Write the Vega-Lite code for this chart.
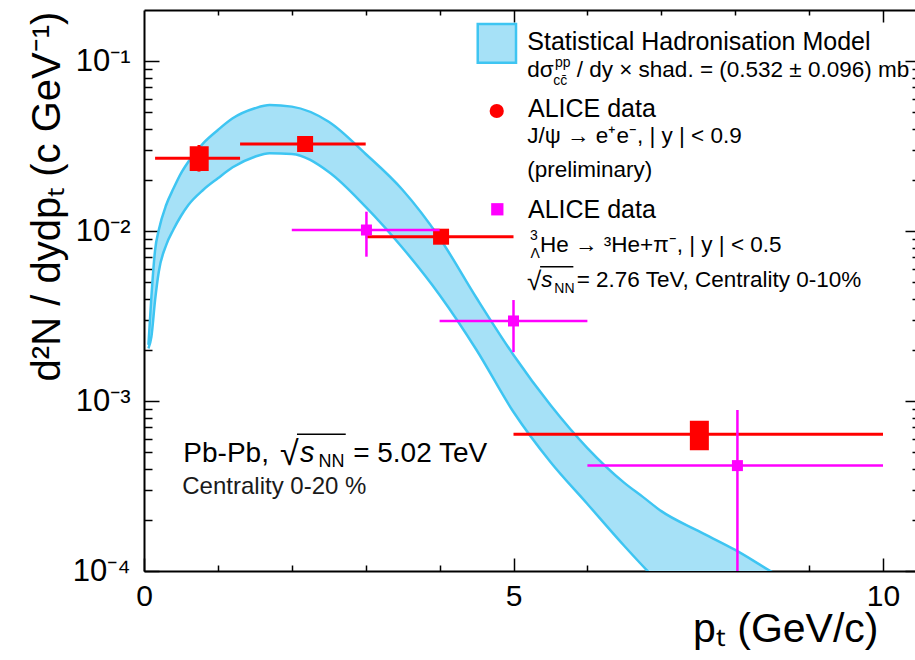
{
  "$schema": "https://vega.github.io/schema/vega-lite/v6.json",
  "width": 771,
  "height": 561,
  "autosize": {"type": "none"},
  "padding": {"left": 144, "top": 10, "right": 0, "bottom": 89},
  "background": "white",
  "config": {"view": {"stroke": null}, "font": "Liberation Sans", "axis": {"grid": false}},
  "resolve": {"axis": {"x": "independent", "y": "independent"}},
  "datasets": {
    "band": [
      {"pt": 0.06, "hi": 0.00214, "lo": 0.00204},
      {"pt": 0.1, "hi": 0.00411, "lo": 0.00239},
      {"pt": 0.15, "hi": 0.00774, "lo": 0.00393},
      {"pt": 0.2, "hi": 0.01015, "lo": 0.00577},
      {"pt": 0.3, "hi": 0.01424, "lo": 0.00828},
      {"pt": 0.4, "hi": 0.01786, "lo": 0.01025},
      {"pt": 0.5, "hi": 0.02188, "lo": 0.01227},
      {"pt": 0.6, "hi": 0.0256, "lo": 0.01424},
      {"pt": 0.8, "hi": 0.03286, "lo": 0.01746},
      {"pt": 1.0, "hi": 0.03935, "lo": 0.02045},
      {"pt": 1.2, "hi": 0.0461, "lo": 0.02374},
      {"pt": 1.5, "hi": 0.0528, "lo": 0.0274},
      {"pt": 1.7, "hi": 0.0552, "lo": 0.0287},
      {"pt": 2.0, "hi": 0.054, "lo": 0.02843},
      {"pt": 2.5, "hi": 0.044, "lo": 0.0223},
      {"pt": 3.0, "hi": 0.02843, "lo": 0.0139},
      {"pt": 3.5, "hi": 0.01745, "lo": 0.00796},
      {"pt": 4.0, "hi": 0.00911, "lo": 0.00421},
      {"pt": 4.5, "hi": 0.00404, "lo": 0.001997},
      {"pt": 5.0, "hi": 0.001867, "lo": 0.000862},
      {"pt": 5.5, "hi": 0.000948, "lo": 0.000438},
      {"pt": 6.0, "hi": 0.000529, "lo": 0.000248},
      {"pt": 6.5, "hi": 0.00033, "lo": 0.0001403},
      {"pt": 6.75, "hi": 0.000273, "lo": 0.000107},
      {"pt": 7.0, "hi": 0.000225, "lo": 0.0000827},
      {"pt": 7.5, "hi": 0.000172, "lo": 0.00005},
      {"pt": 8.0, "hi": 0.000133, "lo": 0.00003},
      {"pt": 8.5, "hi": 0.0000986, "lo": 0.00002},
      {"pt": 8.7, "hi": 0.000088, "lo": 0.000015}
    ],
    "jpsi": [
      {"pt": 0.744, "y": 0.0268, "ptlo": 0.15, "pthi": 1.3, "ylo": 0.0224, "yhi": 0.0321},
      {"pt": 2.18, "y": 0.03255, "ptlo": 1.3, "pthi": 3.0, "ylo": 0.0298, "yhi": 0.0355},
      {"pt": 4.02, "y": 0.00927, "ptlo": 3.0, "pthi": 5.0, "ylo": 0.0086, "yhi": 0.01},
      {"pt": 7.52, "y": 0.000637, "ptlo": 5.0, "pthi": 10.0, "ylo": 0.00054, "yhi": 0.00075}
    ],
    "jpsisys": [
      {"x1": 0.632, "x2": 0.862, "y1": 0.0229, "y2": 0.0311},
      {"x1": 7.4, "x2": 7.63, "y1": 0.00052, "y2": 0.000756}
    ],
    "hyp": [
      {"pt": 3.01, "y": 0.01015, "ptlo": 2.0, "pthi": 4.0, "ylo": 0.00707, "yhi": 0.01301},
      {"pt": 5.0, "y": 0.00296, "ptlo": 4.0, "pthi": 6.0, "ylo": 0.00194, "yhi": 0.00393},
      {"pt": 8.03, "y": 0.000417, "ptlo": 6.0, "pthi": 10.0, "ylo": 0.00001, "yhi": 0.000886}
    ],
    "texts": [
      {"x": 5.187, "y": 0.1163, "t": "Statistical Hadronisation Model", "g": "big"},
      {"x": 5.196, "y": 0.0471, "t": "ALICE data", "g": "big"},
      {"x": 5.196, "y": 0.01189, "t": "ALICE data", "g": "big"},
      {"x": 5.187, "y": 0.081, "t": "dσ", "g": "mid"},
      {"x": 5.855, "y": 0.081, "t": "/ dy × shad. = (0.532 ± 0.096) mb", "g": "mid"},
      {"x": 5.187, "y": 0.0329, "t": "J/ψ → e⁺e⁻,  | y | < 0.9", "g": "mid"},
      {"x": 5.187, "y": 0.0209, "t": "(preliminary)", "g": "mid"},
      {"x": 5.359, "y": 0.0075, "t": "He → ³He+π⁻,  | y | < 0.5", "g": "mid"},
      {"x": 5.855, "y": 0.00471, "t": "= 2.76 TeV, Centrality 0-10%", "g": "mid"},
      {"x": 5.562, "y": 0.0924, "t": "pp", "g": "small"},
      {"x": 5.539, "y": 0.0724, "t": "cc̄", "g": "small"},
      {"x": 5.223, "y": 0.00886, "t": "3", "g": "small"},
      {"x": 5.23, "y": 0.00692, "t": "Λ", "g": "small"},
      {"x": 5.552, "y": 0.00431, "t": "NN", "g": "small"},
      {"x": 5.375, "y": 0.00471, "t": "s", "g": "midital"},
      {"x": 5.183, "y": 0.0045, "t": "√", "g": "rootsmall"},
      {"x": 0.532, "y": 0.00044, "t": "Pb-Pb,", "g": "pb"},
      {"x": 2.83, "y": 0.00044, "t": "= 5.02 TeV", "g": "pb"},
      {"x": 2.111, "y": 0.00044, "t": "s", "g": "pbital"},
      {"x": 2.36, "y": 0.000409, "t": "NN", "g": "pbsub"},
      {"x": 1.84, "y": 0.00042, "t": "√", "g": "rootbig"},
      {"x": 0.518, "y": 0.0002825, "t": "Centrality 0-20 %", "g": "cent"}
    ],
    "overlines": [
      {"x1": 5.36, "x2": 5.81, "y": 0.00618},
      {"x1": 2.07, "x2": 2.73, "y": 0.000637}
    ]
  },
  "layer": [
    {
      "data": {"name": "band"},
      "mark": {"type": "area", "fill": "#a6e1f7", "clip": true, "interpolate": "monotone"},
      "encoding": {
        "x": {"field": "pt", "type": "quantitative", "scale": {"domain": [0, 10.433], "nice": false, "zero": false},
          "axis": {"orient": "bottom", "values": [0, 5, 10], "ticks": false, "tickSize": 0, "labelFontSize": 30, "labelFont": "Liberation Sans", "labelColor": "black", "labelPadding": 10, "labelFlush": false, "labelOverlap": false, "domain": true, "domainColor": "black", "domainWidth": 2,
            "title": "pₜ (GeV/c)", "titleFont": "Liberation Sans", "titleFontSize": 41, "titleFontWeight": "normal", "titleColor": "black", "titleAlign": "right", "titleAnchor": "end", "titleX": 734, "titleY": 70, "titleBaseline": "alphabetic"}},
        "y": {"field": "hi", "type": "quantitative", "scale": {"type": "log", "domain": [0.0001, 0.2], "nice": false},
          "axis": {"orient": "left", "values": [0.0001, 0.001, 0.01, 0.1], "labelExpr": "datum.value > 0.05 ? '10⁻¹' : datum.value > 0.005 ? '10⁻²' : datum.value > 0.0005 ? '10⁻³' : '10⁻⁴'", "ticks": false, "tickSize": 0, "labelFontSize": 31, "labelFont": "Liberation Sans", "labelColor": "black", "labelPadding": 14, "labelFlush": false, "labelOverlap": false, "labelBaseline": "middle", "domain": true, "domainColor": "black", "domainWidth": 2,
            "title": "d²N / dydpₜ (c GeV⁻¹)", "titleFont": "Liberation Sans", "titleFontSize": 40, "titleFontWeight": "normal", "titleColor": "black", "titleX": -85, "titleY": 186, "titleAngle": -90, "titleAlign": "center", "titleBaseline": "alphabetic"}},
        "y2": {"field": "lo"}
      }
    },
    {
      "data": {"name": "band"},
      "mark": {"type": "line", "stroke": "#3ec5f2", "strokeWidth": 2.5, "clip": true, "interpolate": "monotone"},
      "encoding": {
        "x": {"field": "pt", "type": "quantitative", "scale": {"domain": [0, 10.433], "nice": false, "zero": false},
          "axis": {"orient": "bottom", "values": [0, 5, 10], "labels": false, "domain": false, "tickSize": -13, "tickColor": "black", "tickWidth": 1.5, "title": null}},
        "y": {"field": "hi", "type": "quantitative", "scale": {"type": "log", "domain": [0.0001, 0.2], "nice": false},
          "axis": {"orient": "left", "values": [0.0001, 0.001, 0.01, 0.1], "labels": false, "domain": false, "tickSize": -15, "tickColor": "black", "tickWidth": 1.5, "title": null}}
      }
    },
    {
      "data": {"name": "band"},
      "mark": {"type": "line", "stroke": "#3ec5f2", "strokeWidth": 2.5, "clip": true, "interpolate": "monotone"},
      "encoding": {
        "x": {"field": "pt", "type": "quantitative", "scale": {"domain": [0, 10.433], "nice": false, "zero": false},
          "axis": {"orient": "bottom", "values": [1, 2, 3, 4, 6, 7, 8, 9], "labels": false, "domain": false, "tickSize": -6, "tickColor": "black", "tickWidth": 1.5, "title": null}},
        "y": {"field": "lo", "type": "quantitative", "scale": {"type": "log", "domain": [0.0001, 0.2], "nice": false},
          "axis": {"orient": "left", "values": [0.0002, 0.0003, 0.0004, 0.0005, 0.0006, 0.0007, 0.0008, 0.0009, 0.002, 0.003, 0.004, 0.005, 0.006, 0.007, 0.008, 0.009, 0.02, 0.03, 0.04, 0.05, 0.06, 0.07, 0.08, 0.09], "labels": false, "domain": false, "tickSize": -8, "tickColor": "black", "tickWidth": 1.5, "title": null}}
      }
    },
    {
      "data": {"name": "jpsi"},
      "mark": {"type": "rule", "stroke": "#ff0000", "strokeWidth": 3},
      "encoding": {
        "x": {"field": "ptlo", "type": "quantitative", "scale": {"domain": [0, 10.433], "nice": false, "zero": false},
          "axis": {"orient": "top", "values": [5, 10], "labels": false, "domain": true, "domainColor": "black", "domainWidth": 2, "tickSize": -12, "tickColor": "black", "tickWidth": 1.5, "title": null}},
        "x2": {"field": "pthi"},
        "y": {"field": "y", "type": "quantitative", "scale": {"type": "log", "domain": [0.0001, 0.2], "nice": false},
          "axis": {"orient": "right", "values": [0.0001, 0.001, 0.01, 0.1], "labels": false, "domain": false, "tickSize": -10, "tickColor": "black", "tickWidth": 1.5, "title": null}}
      }
    },
    {
      "data": {"name": "jpsi"},
      "mark": {"type": "rule", "stroke": "#ff0000", "strokeWidth": 3},
      "encoding": {
        "x": {"field": "pt", "type": "quantitative", "scale": {"domain": [0, 10.433], "nice": false, "zero": false},
          "axis": {"orient": "top", "values": [1, 2, 3, 4, 6, 7, 8, 9], "labels": false, "domain": false, "tickSize": -5, "tickColor": "black", "tickWidth": 1.5, "title": null}},
        "y": {"field": "ylo", "type": "quantitative", "scale": {"type": "log", "domain": [0.0001, 0.2], "nice": false},
          "axis": {"orient": "right", "values": [0.0002, 0.0003, 0.0004, 0.0005, 0.0006, 0.0007, 0.0008, 0.0009, 0.002, 0.003, 0.004, 0.005, 0.006, 0.007, 0.008, 0.009, 0.02, 0.03, 0.04, 0.05, 0.06, 0.07, 0.08, 0.09], "labels": false, "domain": false, "tickSize": -3, "tickColor": "black", "tickWidth": 1.5, "title": null}},
        "y2": {"field": "yhi"}
      }
    },
    {
      "data": {"name": "jpsisys"},
      "mark": {"type": "rect", "fill": "#ff0000", "stroke": "#ff0000", "strokeWidth": 2},
      "encoding": {
        "x": {"field": "x1", "type": "quantitative", "scale": {"domain": [0, 10.433], "nice": false, "zero": false}, "axis": null},
        "x2": {"field": "x2"},
        "y": {"field": "y1", "type": "quantitative", "scale": {"type": "log", "domain": [0.0001, 0.2], "nice": false}, "axis": null},
        "y2": {"field": "y2"}
      }
    },
    {
      "data": {"name": "jpsi"},
      "mark": {"type": "point", "shape": "square", "filled": true, "fill": "#ff0000", "size": 256, "opacity": 1},
      "encoding": {
        "x": {"field": "pt", "type": "quantitative", "scale": {"domain": [0, 10.433], "nice": false, "zero": false}, "axis": null},
        "y": {"field": "y", "type": "quantitative", "scale": {"type": "log", "domain": [0.0001, 0.2], "nice": false}, "axis": null}
      }
    },
    {
      "data": {"name": "hyp"},
      "mark": {"type": "rule", "stroke": "#ff00ff", "strokeWidth": 2.5, "clip": true},
      "encoding": {
        "x": {"field": "ptlo", "type": "quantitative", "scale": {"domain": [0, 10.433], "nice": false, "zero": false}, "axis": null},
        "x2": {"field": "pthi"},
        "y": {"field": "y", "type": "quantitative", "scale": {"type": "log", "domain": [0.0001, 0.2], "nice": false}, "axis": null}
      }
    },
    {
      "data": {"name": "hyp"},
      "mark": {"type": "rule", "stroke": "#ff00ff", "strokeWidth": 2.5, "clip": true},
      "encoding": {
        "x": {"field": "pt", "type": "quantitative", "scale": {"domain": [0, 10.433], "nice": false, "zero": false}, "axis": null},
        "y": {"field": "ylo", "type": "quantitative", "scale": {"type": "log", "domain": [0.0001, 0.2], "nice": false}, "axis": null},
        "y2": {"field": "yhi"}
      }
    },
    {
      "data": {"name": "hyp"},
      "mark": {"type": "point", "shape": "square", "filled": true, "fill": "#ff00ff", "size": 121, "opacity": 1},
      "encoding": {
        "x": {"field": "pt", "type": "quantitative", "scale": {"domain": [0, 10.433], "nice": false, "zero": false}, "axis": null},
        "y": {"field": "y", "type": "quantitative", "scale": {"type": "log", "domain": [0.0001, 0.2], "nice": false}, "axis": null}
      }
    },
    {
      "data": {"values": [{"x1": 4.516, "x2": 5.034, "y1": 0.0979, "y2": 0.1654}]},
      "mark": {"type": "rect", "fill": "#a6e1f7", "stroke": "#3ec5f2", "strokeWidth": 2.5},
      "encoding": {
        "x": {"field": "x1", "type": "quantitative", "scale": {"domain": [0, 10.433], "nice": false, "zero": false}, "axis": null},
        "x2": {"field": "x2"},
        "y": {"field": "y1", "type": "quantitative", "scale": {"type": "log", "domain": [0.0001, 0.2], "nice": false}, "axis": null},
        "y2": {"field": "y2"}
      }
    },
    {
      "data": {"values": [{"x": 4.773, "y": 0.0509}]},
      "mark": {"type": "point", "shape": "circle", "filled": true, "fill": "#ff0000", "size": 201, "opacity": 1},
      "encoding": {
        "x": {"field": "x", "type": "quantitative", "scale": {"domain": [0, 10.433], "nice": false, "zero": false}, "axis": null},
        "y": {"field": "y", "type": "quantitative", "scale": {"type": "log", "domain": [0.0001, 0.2], "nice": false}, "axis": null}
      }
    },
    {
      "data": {"values": [{"x": 4.781, "y": 0.01344}]},
      "mark": {"type": "point", "shape": "square", "filled": true, "fill": "#ff00ff", "size": 151, "opacity": 1},
      "encoding": {
        "x": {"field": "x", "type": "quantitative", "scale": {"domain": [0, 10.433], "nice": false, "zero": false}, "axis": null},
        "y": {"field": "y", "type": "quantitative", "scale": {"type": "log", "domain": [0.0001, 0.2], "nice": false}, "axis": null}
      }
    },
    {
      "data": {"name": "overlines"},
      "mark": {"type": "rule", "stroke": "black", "strokeWidth": 1.5},
      "encoding": {
        "x": {"field": "x1", "type": "quantitative", "scale": {"domain": [0, 10.433], "nice": false, "zero": false}, "axis": null},
        "x2": {"field": "x2"},
        "y": {"field": "y", "type": "quantitative", "scale": {"type": "log", "domain": [0.0001, 0.2], "nice": false}, "axis": null}
      }
    },
    {
      "data": {"name": "texts"},
      "transform": [{"filter": "datum.g == 'big'"}],
      "mark": {"type": "text", "align": "left", "baseline": "alphabetic", "font": "Liberation Sans", "fontSize": 25, "color": "black"},
      "encoding": {
        "x": {"field": "x", "type": "quantitative", "scale": {"domain": [0, 10.433], "nice": false, "zero": false}, "axis": null},
        "y": {"field": "y", "type": "quantitative", "scale": {"type": "log", "domain": [0.0001, 0.2], "nice": false}, "axis": null},
        "text": {"field": "t"}
      }
    },
    {
      "data": {"name": "texts"},
      "transform": [{"filter": "datum.g == 'mid'"}],
      "mark": {"type": "text", "align": "left", "baseline": "alphabetic", "font": "Liberation Sans", "fontSize": 22.5, "color": "black"},
      "encoding": {
        "x": {"field": "x", "type": "quantitative", "scale": {"domain": [0, 10.433], "nice": false, "zero": false}, "axis": null},
        "y": {"field": "y", "type": "quantitative", "scale": {"type": "log", "domain": [0.0001, 0.2], "nice": false}, "axis": null},
        "text": {"field": "t"}
      }
    },
    {
      "data": {"name": "texts"},
      "transform": [{"filter": "datum.g == 'midital'"}],
      "mark": {"type": "text", "align": "left", "baseline": "alphabetic", "font": "Liberation Sans", "fontSize": 22.5, "fontStyle": "italic", "color": "black"},
      "encoding": {
        "x": {"field": "x", "type": "quantitative", "scale": {"domain": [0, 10.433], "nice": false, "zero": false}, "axis": null},
        "y": {"field": "y", "type": "quantitative", "scale": {"type": "log", "domain": [0.0001, 0.2], "nice": false}, "axis": null},
        "text": {"field": "t"}
      }
    },
    {
      "data": {"name": "texts"},
      "transform": [{"filter": "datum.g == 'small'"}],
      "mark": {"type": "text", "align": "left", "baseline": "alphabetic", "font": "Liberation Sans", "fontSize": 14, "color": "black"},
      "encoding": {
        "x": {"field": "x", "type": "quantitative", "scale": {"domain": [0, 10.433], "nice": false, "zero": false}, "axis": null},
        "y": {"field": "y", "type": "quantitative", "scale": {"type": "log", "domain": [0.0001, 0.2], "nice": false}, "axis": null},
        "text": {"field": "t"}
      }
    },
    {
      "data": {"name": "texts"},
      "transform": [{"filter": "datum.g == 'rootsmall'"}],
      "mark": {"type": "text", "align": "left", "baseline": "alphabetic", "font": "Liberation Sans", "fontSize": 26, "color": "black"},
      "encoding": {
        "x": {"field": "x", "type": "quantitative", "scale": {"domain": [0, 10.433], "nice": false, "zero": false}, "axis": null},
        "y": {"field": "y", "type": "quantitative", "scale": {"type": "log", "domain": [0.0001, 0.2], "nice": false}, "axis": null},
        "text": {"field": "t"}
      }
    },
    {
      "data": {"name": "texts"},
      "transform": [{"filter": "datum.g == 'pb'"}],
      "mark": {"type": "text", "align": "left", "baseline": "alphabetic", "font": "Liberation Sans", "fontSize": 28, "color": "black"},
      "encoding": {
        "x": {"field": "x", "type": "quantitative", "scale": {"domain": [0, 10.433], "nice": false, "zero": false}, "axis": null},
        "y": {"field": "y", "type": "quantitative", "scale": {"type": "log", "domain": [0.0001, 0.2], "nice": false}, "axis": null},
        "text": {"field": "t"}
      }
    },
    {
      "data": {"name": "texts"},
      "transform": [{"filter": "datum.g == 'pbital'"}],
      "mark": {"type": "text", "align": "left", "baseline": "alphabetic", "font": "Liberation Sans", "fontSize": 29, "fontStyle": "italic", "color": "black"},
      "encoding": {
        "x": {"field": "x", "type": "quantitative", "scale": {"domain": [0, 10.433], "nice": false, "zero": false}, "axis": null},
        "y": {"field": "y", "type": "quantitative", "scale": {"type": "log", "domain": [0.0001, 0.2], "nice": false}, "axis": null},
        "text": {"field": "t"}
      }
    },
    {
      "data": {"name": "texts"},
      "transform": [{"filter": "datum.g == 'pbsub'"}],
      "mark": {"type": "text", "align": "left", "baseline": "alphabetic", "font": "Liberation Sans", "fontSize": 18, "color": "black"},
      "encoding": {
        "x": {"field": "x", "type": "quantitative", "scale": {"domain": [0, 10.433], "nice": false, "zero": false}, "axis": null},
        "y": {"field": "y", "type": "quantitative", "scale": {"type": "log", "domain": [0.0001, 0.2], "nice": false}, "axis": null},
        "text": {"field": "t"}
      }
    },
    {
      "data": {"name": "texts"},
      "transform": [{"filter": "datum.g == 'rootbig'"}],
      "mark": {"type": "text", "align": "left", "baseline": "alphabetic", "font": "Liberation Sans", "fontSize": 34, "color": "black"},
      "encoding": {
        "x": {"field": "x", "type": "quantitative", "scale": {"domain": [0, 10.433], "nice": false, "zero": false}, "axis": null},
        "y": {"field": "y", "type": "quantitative", "scale": {"type": "log", "domain": [0.0001, 0.2], "nice": false}, "axis": null},
        "text": {"field": "t"}
      }
    },
    {
      "data": {"name": "texts"},
      "transform": [{"filter": "datum.g == 'cent'"}],
      "mark": {"type": "text", "align": "left", "baseline": "alphabetic", "font": "Liberation Sans", "fontSize": 24, "color": "#1a1a1a"},
      "encoding": {
        "x": {"field": "x", "type": "quantitative", "scale": {"domain": [0, 10.433], "nice": false, "zero": false}, "axis": null},
        "y": {"field": "y", "type": "quantitative", "scale": {"type": "log", "domain": [0.0001, 0.2], "nice": false}, "axis": null},
        "text": {"field": "t"}
      }
    }
  ]
}
